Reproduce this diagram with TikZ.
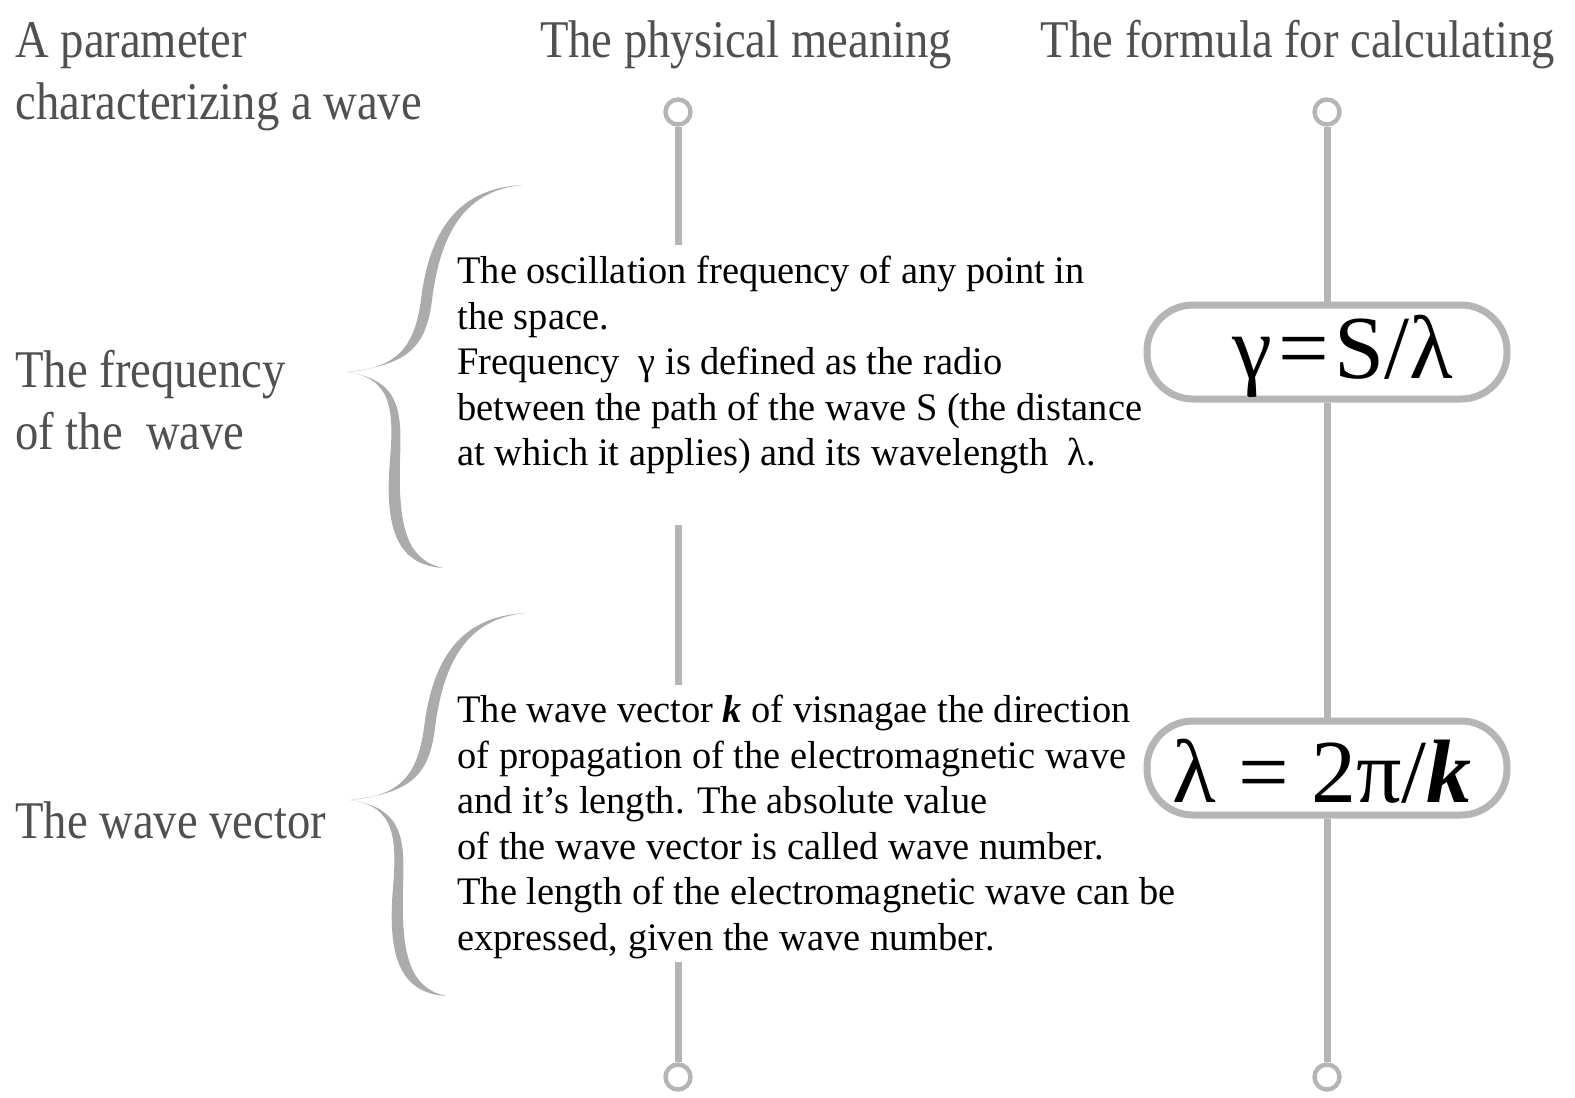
\documentclass[tikz,border=0pt]{standalone}
\usepackage{fontspec}
\setmainfont{Liberation Serif}
\newfontfamily\headfont[FakeStretch=0.88]{Liberation Serif}
\newfontfamily\bodyfont[FakeStretch=0.985]{Liberation Serif}
\definecolor{linegray}{HTML}{B5B5B5}
\definecolor{bracegray}{HTML}{ABABAB}
\definecolor{headgray}{HTML}{505050}
\begin{document}
\begin{tikzpicture}[x=0.5pt,y=-0.5pt,
  heading/.style={inner sep=0pt,text=headgray,font=\headfont\fontsize{26.5}{31}\selectfont,align=left},
  bodytext/.style={inner sep=0pt,anchor=north west,align=left,font=\bodyfont\fontsize{19.5}{22.75}\selectfont},
  rail/.style={draw=linegray,line width=3.5pt},
  endcircle/.style={circle,draw=linegray,line width=2.2pt,minimum size=12.5pt,inner sep=0pt,fill=white},
  formbox/.style={draw=linegray,line width=3.5pt,rounded corners=23pt,minimum width=180pt,minimum height=47pt,inner sep=0pt,fill=white},
  formula/.style={inner sep=0pt,font=\fontsize{45}{50}\selectfont},
  bracefill/.style={fill=bracegray,draw=none}]
\useasboundingbox (0,0) rectangle (1575,1098);
\fill[white] (0,0) rectangle (1575,1098);

% headings
\node[heading,anchor=base west] (hparam) at (15,119) {A parameter\\characterizing a wave};
\node[heading,anchor=base] (hmeaning) at (746,57) {The physical meaning};
\node[heading,anchor=base] (hformula) at (1298,57) {The formula for calculating};
\node[heading,anchor=base west] (hfreq) at (15,449) {The frequency\\of the\ \ wave};
\node[heading,anchor=base west] (hvec) at (15,838) {The wave vector};

% left rail
\node[endcircle] (lc1) at (678,112) {};
\node[endcircle] (lc2) at (678,1077) {};
\coordinate (la) at (678,245);
\coordinate (lb) at (678,525);
\coordinate (lcc) at (678,685);
\coordinate (ld) at (678,962);
\draw[rail] (lc1.south) -- (la);
\draw[rail] (lb) -- (lcc);
\draw[rail] (ld) -- (lc2.north);

% right rail
\node[endcircle] (rc1) at (1327,112) {};
\node[endcircle] (rc2) at (1327,1077) {};
\node[formbox] (box1) at (1327,352) {};
\node[formbox] (box2) at (1327,768) {};
\draw[rail] (rc1.south) -- (box1.north);
\draw[rail] (box1.south) -- (box2.north);
\draw[rail] (box2.south) -- (rc2.north);
\node[formula] (f1) at (1343,356) {γ\kern3pt=\kern3ptS/λ};
\node[formula] (f2) at (1322,771) {λ = 2π/\textit{\textbf{k}}};

% braces
\foreach \dx/\dy in {0/0, 3/428}{
\begin{scope}[shift={(\dx,\dy)}]
\fill[bracefill] (523,185) .. controls (462,188) and (430,225) .. (421,300)
 .. controls (414,350) and (395,368) .. (347,372)
 .. controls (392,378) and (394,410) .. (390,460)
 .. controls (384,530) and (398,565) .. (443,568)
 .. controls (408,560) and (398,530) .. (400,460)
 .. controls (402,410) and (400,380) .. (347,372)
 .. controls (405,365) and (426,350) .. (432,300)
 .. controls (441,228) and (468,190) .. (523,185) -- cycle;
\end{scope}
}

% body texts
\node[bodytext] (t1) at (457,256) {The oscillation frequency of any point in\\
the space.\\
Frequency\ \ γ is defined as the radio\\
between the path of the wave S (the distance\\
at which it applies) and its wavelength\ \ λ.};
\node[bodytext] (t2) at (457,695) {The wave vector \textit{\textbf{k}} of visnagae the direction\\
of propagation of the electromagnetic wave\\
and it’s length. The absolute value\\
of the wave vector is called wave number.\\
The length of the electromagnetic wave can be\\
expressed, given the wave number.};
\end{tikzpicture}
\end{document}
